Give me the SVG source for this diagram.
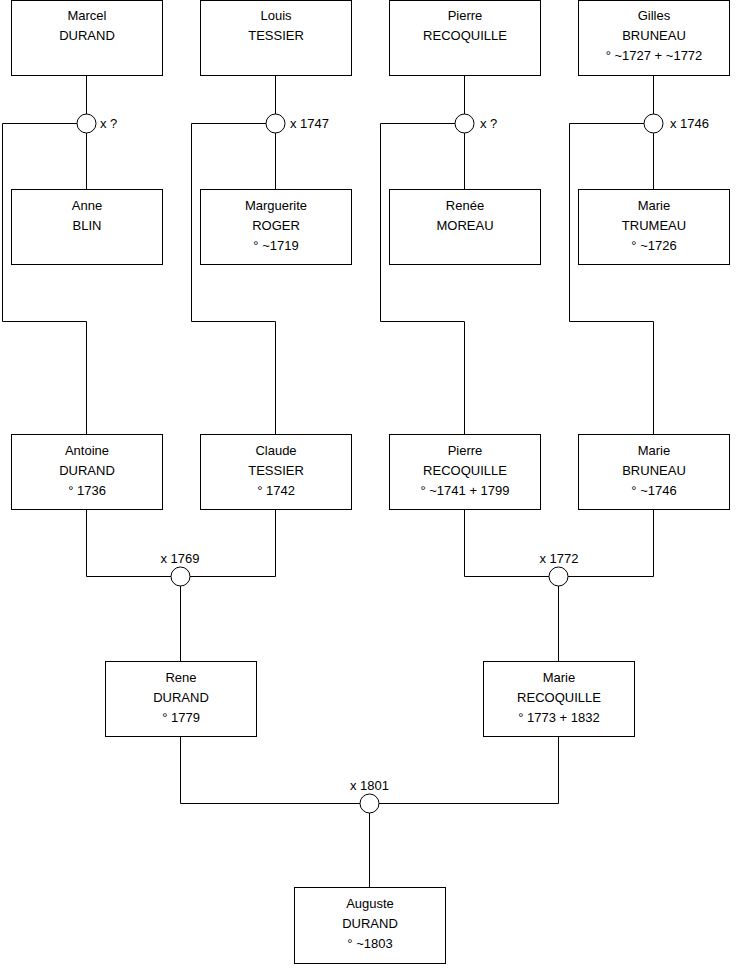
<svg xmlns="http://www.w3.org/2000/svg" width="740" height="975" viewBox="0 0 740 975">
<style>
.box{fill:#fff;stroke:#000;stroke-width:1}
.c{fill:#fff;stroke:#000;stroke-width:1}
.ln{fill:none;stroke:#000;stroke-width:1}
text{font-family:"Liberation Sans",Arial,sans-serif;font-size:13px;fill:#000}
.m{text-anchor:middle}
</style>
<rect width="740" height="975" fill="#fff"/>
<g id="connectors">
<path class="ln" d="M86.5 75.5V189.5M77 123.5H2.5V321.5H86.5V434.5"/>
<path class="ln" d="M275.5 75.5V189.5M266 123.5H191.5V321.5H275.5V434.5"/>
<path class="ln" d="M464.5 75.5V189.5M455 123.5H380.5V321.5H464.5V434.5"/>
<path class="ln" d="M653.5 75.5V189.5M644 123.5H569.5V321.5H653.5V434.5"/>
<path class="ln" d="M86.5 509.5V576.5H275.5V509.5M180.5 576.5V661.5"/>
<path class="ln" d="M464.5 509.5V576.5H653.5V509.5M558.5 576.5V661.5"/>
<path class="ln" d="M180.5 736.5V803.5H558.5V736.5M369.5 803.5V887.5"/>
</g>
<g id="m1"><circle class="c" cx="86.5" cy="123.5" r="9.5"/><text x="100" y="128">x ?</text></g>
<g id="m2"><circle class="c" cx="275.5" cy="123.5" r="9.5"/><text x="290" y="128">x 1747</text></g>
<g id="m3"><circle class="c" cx="464.5" cy="123.5" r="9.5"/><text x="480" y="128">x ?</text></g>
<g id="m4"><circle class="c" cx="653.5" cy="123.5" r="9.5"/><text x="670" y="128">x 1746</text></g>
<g id="m5"><circle class="c" cx="180.5" cy="576.5" r="9.5"/><text class="m" x="180" y="563">x 1769</text></g>
<g id="m6"><circle class="c" cx="558.5" cy="576.5" r="9.5"/><text class="m" x="559" y="563">x 1772</text></g>
<g id="m7"><circle class="c" cx="369.5" cy="803.5" r="9.5"/><text class="m" x="369.5" y="790">x 1801</text></g>

<g id="marcel"><rect class="box" x="11.5" y="0.5" width="151" height="75"/><text class="m" x="87" y="20">Marcel</text><text class="m" x="87" y="40">DURAND</text></g>
<g id="louis"><rect class="box" x="200.5" y="0.5" width="151" height="75"/><text class="m" x="276" y="20">Louis</text><text class="m" x="276" y="40">TESSIER</text></g>
<g id="pierre1"><rect class="box" x="389.5" y="0.5" width="151" height="75"/><text class="m" x="465" y="20">Pierre</text><text class="m" x="465" y="40">RECOQUILLE</text></g>
<g id="gilles"><rect class="box" x="578.5" y="0.5" width="151" height="75"/><text class="m" x="654" y="20">Gilles</text><text class="m" x="654" y="40">BRUNEAU</text><text class="m" x="654" y="60">° ~1727 + ~1772</text></g>

<g id="anne"><rect class="box" x="11.5" y="189.5" width="151" height="75"/><text class="m" x="87" y="210">Anne</text><text class="m" x="87" y="230">BLIN</text></g>
<g id="marguerite"><rect class="box" x="200.5" y="189.5" width="151" height="75"/><text class="m" x="276" y="210">Marguerite</text><text class="m" x="276" y="230">ROGER</text><text class="m" x="276" y="250">° ~1719</text></g>
<g id="renee"><rect class="box" x="389.5" y="189.5" width="151" height="75"/><text class="m" x="465" y="210">Renée</text><text class="m" x="465" y="230">MOREAU</text></g>
<g id="marieT"><rect class="box" x="578.5" y="189.5" width="151" height="75"/><text class="m" x="654" y="210">Marie</text><text class="m" x="654" y="230">TRUMEAU</text><text class="m" x="654" y="250">° ~1726</text></g>

<g id="antoine"><rect class="box" x="11.5" y="434.5" width="151" height="75"/><text class="m" x="87" y="455">Antoine</text><text class="m" x="87" y="475">DURAND</text><text class="m" x="87" y="495">° 1736</text></g>
<g id="claude"><rect class="box" x="200.5" y="434.5" width="151" height="75"/><text class="m" x="276" y="455">Claude</text><text class="m" x="276" y="475">TESSIER</text><text class="m" x="276" y="495">° 1742</text></g>
<g id="pierre2"><rect class="box" x="389.5" y="434.5" width="151" height="75"/><text class="m" x="465" y="455">Pierre</text><text class="m" x="465" y="475">RECOQUILLE</text><text class="m" x="465" y="495">° ~1741 + 1799</text></g>
<g id="marieB"><rect class="box" x="578.5" y="434.5" width="151" height="75"/><text class="m" x="654" y="455">Marie</text><text class="m" x="654" y="475">BRUNEAU</text><text class="m" x="654" y="495">° ~1746</text></g>

<g id="rene"><rect class="box" x="105.5" y="661.5" width="151" height="75"/><text class="m" x="181" y="682">Rene</text><text class="m" x="181" y="702">DURAND</text><text class="m" x="181" y="722">° 1779</text></g>
<g id="marieR"><rect class="box" x="483.5" y="661.5" width="151" height="75"/><text class="m" x="559" y="682">Marie</text><text class="m" x="559" y="702">RECOQUILLE</text><text class="m" x="559" y="722">° 1773 + 1832</text></g>

<g id="auguste"><rect class="box" x="294.5" y="887.5" width="151" height="76"/><text class="m" x="370" y="908">Auguste</text><text class="m" x="370" y="928">DURAND</text><text class="m" x="370" y="948">° ~1803</text></g>
</svg>
